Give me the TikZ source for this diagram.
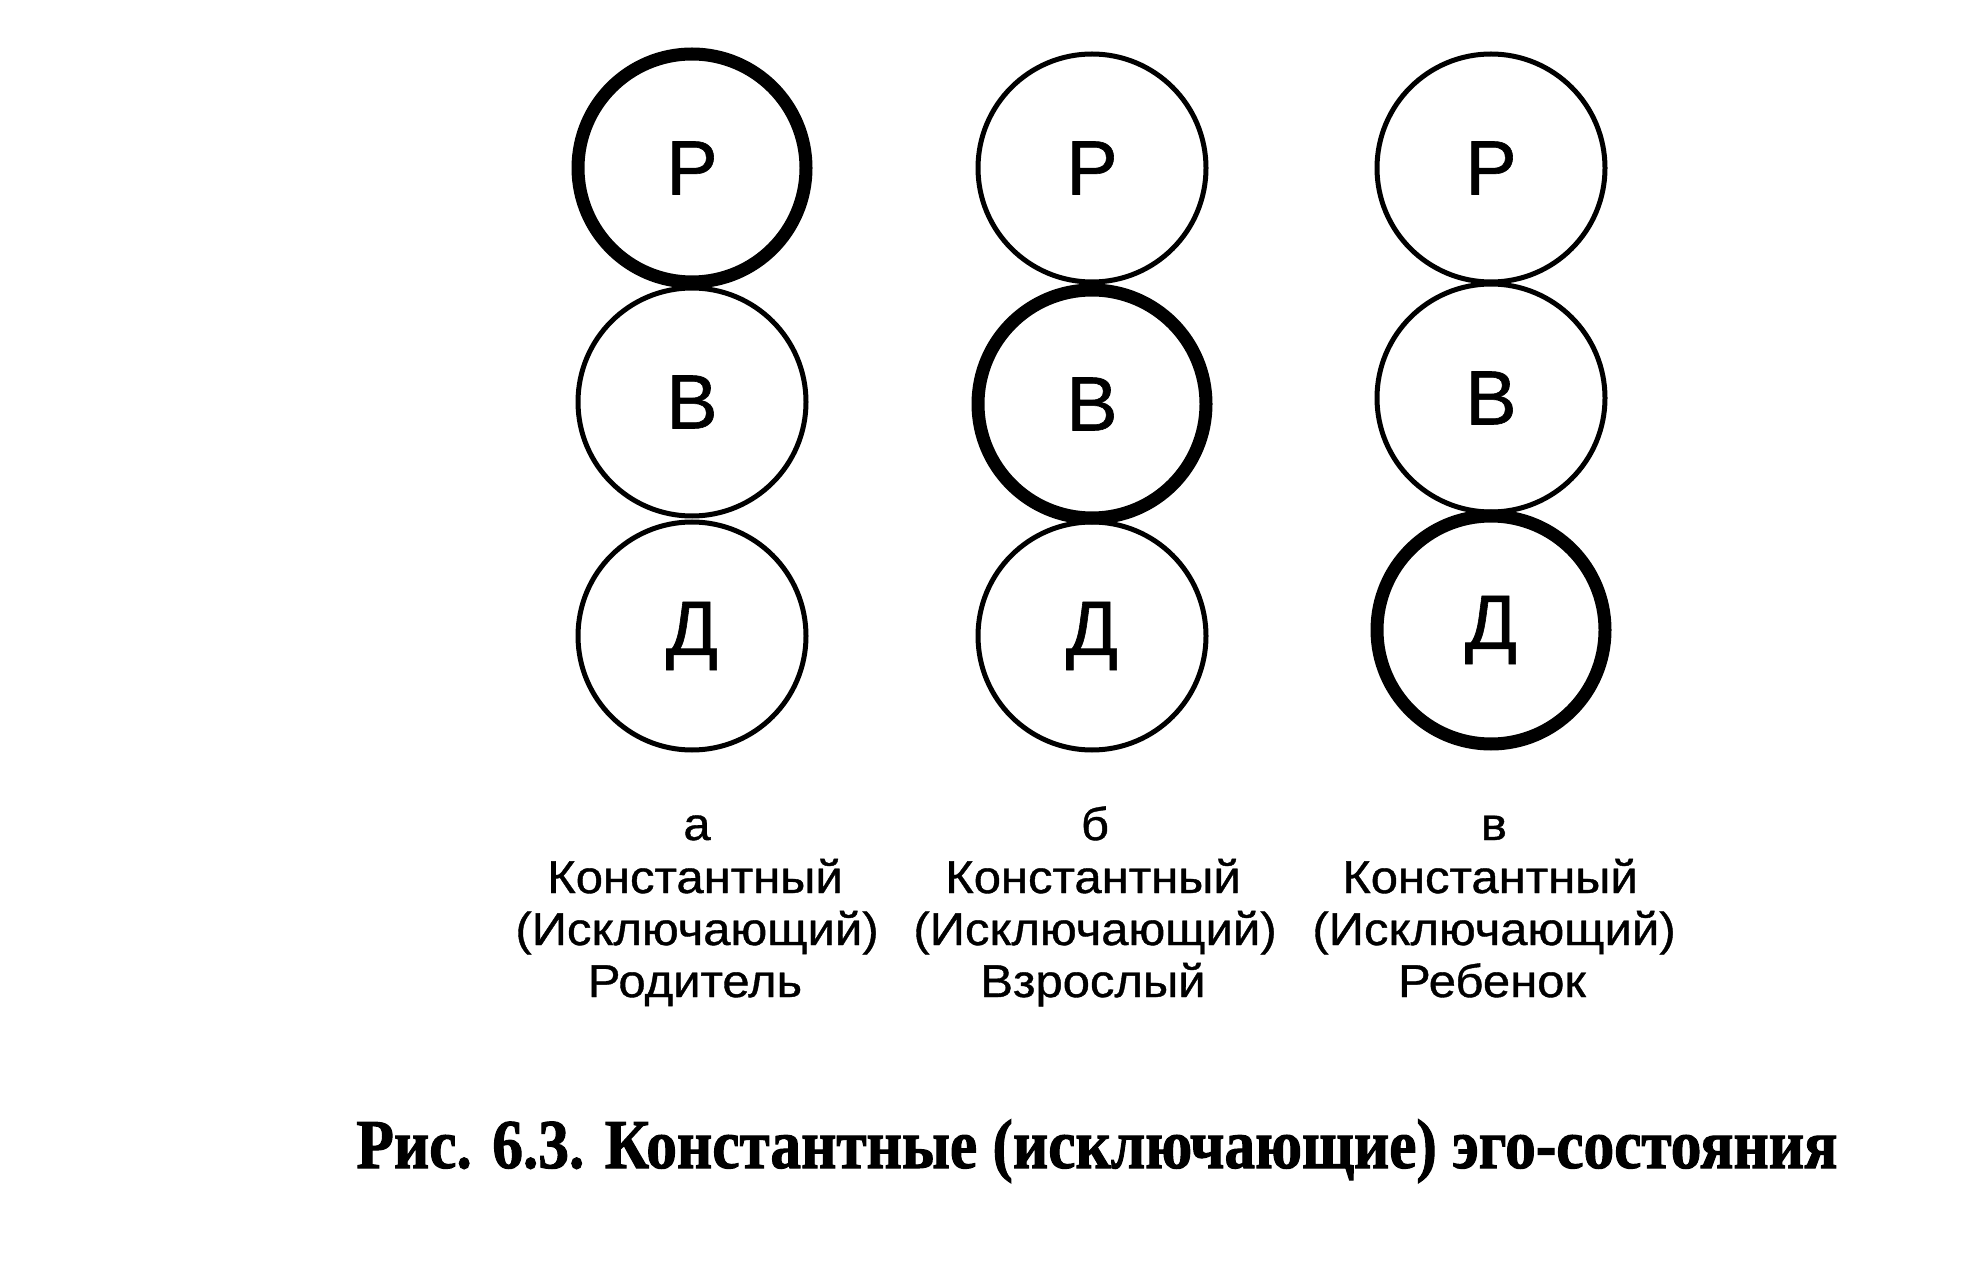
\documentclass[tikz,border=0pt]{standalone}
\usepackage{fontspec}
\setmainfont[FakeBold=0.8]{Liberation Sans}
\newfontfamily\capfont[BoldFeatures={FakeBold=1.6}]{Liberation Serif}
\begin{document}
\begin{tikzpicture}[x=0.5pt,y=-0.5pt,
  ego/.style={circle,draw=black,line width=2.5pt,inner sep=0pt,minimum size=114pt,
    font=\fontsize{38.5}{40}\selectfont},
  egothick/.style={ego,line width=6.5pt},
  lbl/.style={anchor=base,inner sep=0pt,font=\fontsize{23}{26}\selectfont},
  capt/.style={anchor=base west,inner sep=0pt,font=\capfont\bfseries\fontsize{35}{37}\selectfont}]
\newcommand\wlbl[1]{\scalebox{1.065}[1]{#1}}
\useasboundingbox (0,0) rectangle (1964,1288);
% column a
\node[egothick] (aP) at (692,168) {Р};
\node[ego] (aB) at (692,402) {В};
\node[ego] (aD) at (692,636) {Д};
% column b
\node[ego] (bP) at (1092,168) {Р};
\node[egothick] (bB) at (1092,404) {В};
\node[ego] (bD) at (1092,636) {Д};
% column c
\node[ego] (cP) at (1491,168) {Р};
\node[ego] (cB) at (1491,398) {В};
\node[egothick] (cD) at (1491,630) {Д};
% labels
\node[lbl] (a1) at (697,840) {\wlbl{а}};
\node[lbl] (a2) at (695,893) {\wlbl{Константный}};
\node[lbl] (a3) at (697,945) {\wlbl{(Исключающий)}};
\node[lbl] (a4) at (695,997) {\wlbl{Родитель}};
\node[lbl] (b1) at (1095,840) {\wlbl{б}};
\node[lbl] (b2) at (1093,893) {\wlbl{Константный}};
\node[lbl] (b3) at (1095,945) {\wlbl{(Исключающий)}};
\node[lbl] (b4) at (1093,997) {\wlbl{Взрослый}};
\node[lbl] (c1) at (1494,840) {\wlbl{в}};
\node[lbl] (c2) at (1490,893) {\wlbl{Константный}};
\node[lbl] (c3) at (1494,945) {\wlbl{(Исключающий)}};
\node[lbl] (c4) at (1492,997) {\wlbl{Ребенок}};
% caption
\node[capt] (cap) at (356,1168) {\resizebox{740.5pt}{\height}{Рис. 6.3. Константные (исключающие) эго-состояния}};
\end{tikzpicture}
\end{document}
